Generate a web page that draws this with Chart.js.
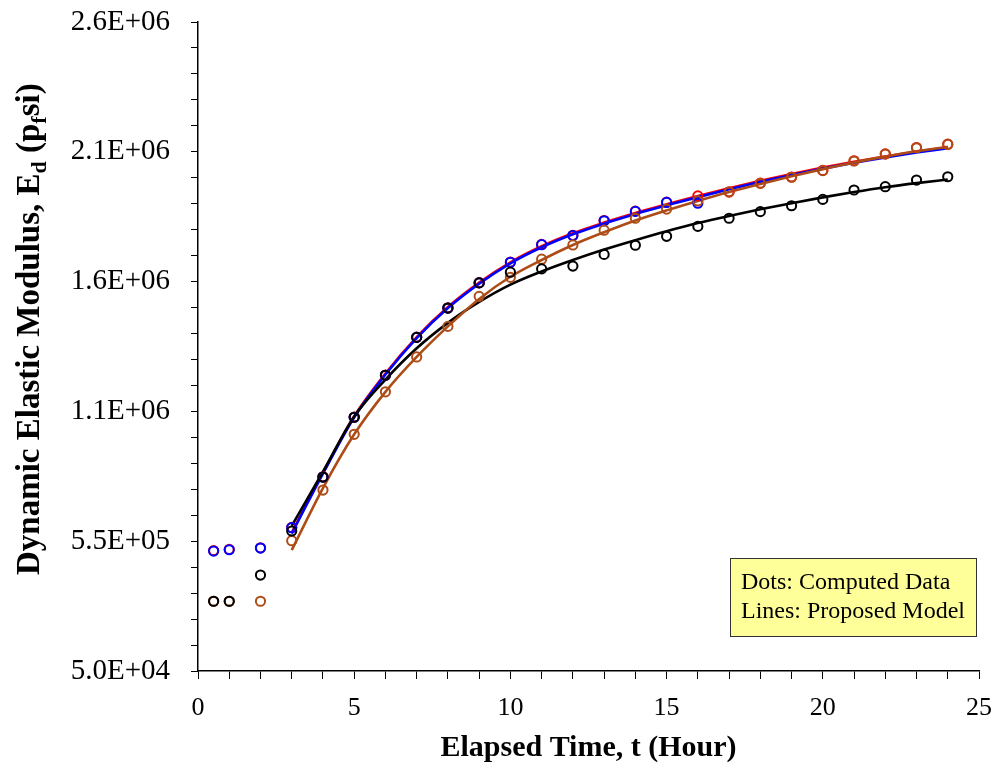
<!DOCTYPE html>
<html>
<head>
<meta charset="utf-8">
<script src="https://cdn.jsdelivr.net/npm/chart.js@4/dist/chart.umd.min.js"></script>
<style>
  html, body { margin: 0; padding: 0; background: #ffffff; }
  #wrap { width: 998px; height: 770px; }
</style>
</head>
<body>
<div id="wrap"><canvas id="c" width="998" height="770"></canvas></div>
<script>
// ---------------- data ----------------
const dotTimes = [0.5, 1, 2, 3, 4, 5, 6, 7, 8, 9, 10, 11, 12, 13, 14, 15, 16, 17, 18, 19, 20, 21, 22, 23, 24];
const blueDots  = [512000, 517000, 523500, 602000, 797000, 1027400, 1189200, 1335200, 1448000, 1545000, 1624400, 1692100, 1727400, 1784200, 1820500, 1854800, 1851900];
const redDots   = [513700, 518600, 524500, 602900, 798000, 1028400, 1190100, 1336200, 1449000, 1546000, 1625400, 1693100, 1728400, 1785200, 1821500, 1855800, 1880300, 1896000, 1929300, 1952900, 1978300, 2015600, 2042100, 2066600, 2079300];
const blackDots = [318600, 318600, 419600, 589200, 797000, 1027400, 1189200, 1335200, 1448000, 1545000, 1586200, 1599000, 1609700, 1654800, 1690100, 1724400, 1762700, 1794000, 1819500, 1842100, 1866600, 1902900, 1915600, 1941100, 1953800];
const brownDots = [318600, 318600, 318600, 551900, 747000, 961700, 1125400, 1259800, 1377400, 1493100, 1566600, 1636200, 1691100, 1748000, 1794000, 1829300, 1860700, 1895000, 1928300, 1951900, 1977400, 2014600, 2041100, 2065600, 2078300];

const modelTimes = [3, 4, 5, 6, 7, 8, 9, 10, 11, 12, 13, 14, 15, 16, 17, 18, 19, 20, 21, 22, 23, 24];
const blueModel  = [579400, 809800, 1027400, 1192100, 1332300, 1448000, 1542100, 1620500, 1682300, 1732300, 1773500, 1810700, 1844000, 1875400, 1905800, 1934200, 1960700, 1985200, 2007800, 2028300, 2047000, 2063600];
const redModel   = [583300, 813700, 1031300, 1196000, 1336200, 1451900, 1546000, 1624400, 1686200, 1736200, 1777400, 1814600, 1847900, 1879300, 1909700, 1938100, 1964600, 1989100, 2011700, 2032200, 2050900, 2067500];
const blackModel = [608800, 817600, 1030300, 1172500, 1293100, 1391100, 1471500, 1538200, 1589100, 1633300, 1673500, 1709700, 1744000, 1775400, 1802900, 1828400, 1851900, 1874400, 1895000, 1913600, 1929300, 1943100];
const brownModel = [515700, 754900, 961700, 1125400, 1259800, 1377400, 1483300, 1568600, 1633300, 1691100, 1740100, 1785200, 1824400, 1860700, 1895000, 1926400, 1955800, 1983300, 2008700, 2031300, 2051900, 2069500];

const yMajorTicks  = [50000, 550000, 1050000, 1550000, 2050000, 2550000];
const yMajorLabels = ['5.0E+04', '5.5E+05', '1.1E+06', '1.6E+06', '2.1E+06', '2.6E+06'];
const yTickValues  = [50000, 150000, 250000, 350000, 450000, 550000, 650000, 750000, 850000, 950000,
                      1050000, 1150000, 1250000, 1350000, 1450000, 1550000, 1650000, 1750000, 1850000, 1950000,
                      2050000, 2150000, 2250000, 2350000, 2450000, 2550000];
const xLabelTicks = [0, 5, 10, 15, 20, 25];

const xTitle = 'Elapsed Time, t (Hour)';
const yTitleParts = [
  { t: 'Dynamic Elastic Modulus, E', sub: false },
  { t: 'd', sub: true },
  { t: ' (p', sub: false },
  { t: 'f', sub: true },
  { t: 'si)', sub: false }
];
const noteLines = ['Dots: Computed Data', 'Lines: Proposed Model'];

// ---------------- helpers ----------------
const BLUE = '#0000ff', RED = '#ff0000', BLACK = '#000000', BROWN = '#ad4c17';
const SERIF = "'Liberation Serif', 'DejaVu Serif', serif";

function pts(xs, ys) { return ys.map((y, i) => ({ x: xs[i], y: y })); }

function dotSet(data, color, order) {
  return { type: 'scatter', data: pts(dotTimes, data), showLine: false,
    borderColor: color, backgroundColor: 'rgba(0,0,0,0)', pointRadius: 4.6,
    pointBorderWidth: 2, pointHoverRadius: 4.6, order: order };
}
function lineSet(data, color, order) {
  return { type: 'line', data: pts(modelTimes, data), showLine: true,
    borderColor: color, borderWidth: 2.6, pointRadius: 0, fill: false,
    cubicInterpolationMode: 'monotone', order: order };
}

const annot = {
  id: 'annot',
  afterDraw(chart) {
    const ctx = chart.ctx;
    const ca = chart.chartArea;
    // x title
    ctx.save();
    ctx.fillStyle = '#000';
    ctx.font = 'bold 30px ' + SERIF;
    ctx.textAlign = 'center';
    ctx.textBaseline = 'alphabetic';
    ctx.fillText(xTitle, (ca.left + ca.right) / 2, 756);
    ctx.restore();

    // y title (rotated, with subscripts)
    ctx.save();
    ctx.translate(39, 575);
    ctx.rotate(-Math.PI / 2);
    ctx.fillStyle = '#000';
    ctx.textAlign = 'left';
    ctx.textBaseline = 'alphabetic';
    let x = 0;
    yTitleParts.forEach(p => {
      ctx.font = (p.sub ? 'bold 22px ' : 'bold 33px ') + SERIF;
      ctx.fillText(p.t, x, p.sub ? 7 : 0);
      x += ctx.measureText(p.t).width;
    });
    ctx.restore();

    // note box
    ctx.save();
    const bx = 730, by = 558, bw = 246, bh = 78;
    ctx.fillStyle = '#ffff99';
    ctx.fillRect(bx, by, bw, bh);
    ctx.strokeStyle = '#333';
    ctx.lineWidth = 1;
    ctx.strokeRect(bx + 0.5, by + 0.5, bw, bh);
    ctx.fillStyle = '#000';
    ctx.font = '24px ' + SERIF;
    ctx.textAlign = 'left';
    ctx.textBaseline = 'alphabetic';
    ctx.fillText(noteLines[0], 741, 589);
    ctx.fillText(noteLines[1], 741, 618);
    ctx.restore();
  }
};

new Chart(document.getElementById('c'), {
  type: 'scatter',
  data: {
    datasets: [
      dotSet(blackDots, BLACK, 1),
      dotSet(brownDots, BROWN, 2),
      dotSet(blueDots, BLUE, 3),
      dotSet(redDots, RED, 4),
      lineSet(brownModel, BROWN, 5),
      lineSet(blackModel, BLACK, 6),
      lineSet(blueModel, BLUE, 7),
      lineSet(redModel, RED, 8)
    ]
  },
  options: {
    responsive: false,
    animation: false,
    devicePixelRatio: 1,
    layout: { autoPadding: false, padding: { top: 22, right: 19, left: 0, bottom: 0 } },
    plugins: { legend: { display: false }, tooltip: { enabled: false } },
    scales: {
      x: {
        type: 'linear', min: 0, max: 25,
        grid: { drawOnChartArea: false, color: '#000', tickLength: 8, lineWidth: 1 },
        border: { display: true, color: '#000', width: 1.5 },
        ticks: {
          stepSize: 1, autoSkip: false, maxRotation: 0, padding: 14,
          color: '#000', font: { family: SERIF, size: 26 },
          callback: v => xLabelTicks.includes(v) ? String(v) : ''
        },
        afterFit: s => { s.height = 99; s.paddingLeft = 0; s.paddingRight = 0; }
      },
      y: {
        type: 'linear', min: 50000, max: 2550000,
        grid: { drawOnChartArea: false, color: '#000', tickLength: 7, lineWidth: 1 },
        border: { display: true, color: '#000', width: 1.5 },
        afterBuildTicks: s => { s.ticks = yTickValues.map(v => ({ value: v })); },
        ticks: {
          autoSkip: false, padding: 21, color: '#000',
          font: { family: SERIF, size: 29 },
          callback: v => { const i = yMajorTicks.indexOf(v); return i >= 0 ? yMajorLabels[i] : ''; }
        },
        afterFit: s => { s.width = 198; s.paddingTop = 0; s.paddingBottom = 0; }
      }
    }
  },
  plugins: [annot]
});
</script>
</body>
</html>
